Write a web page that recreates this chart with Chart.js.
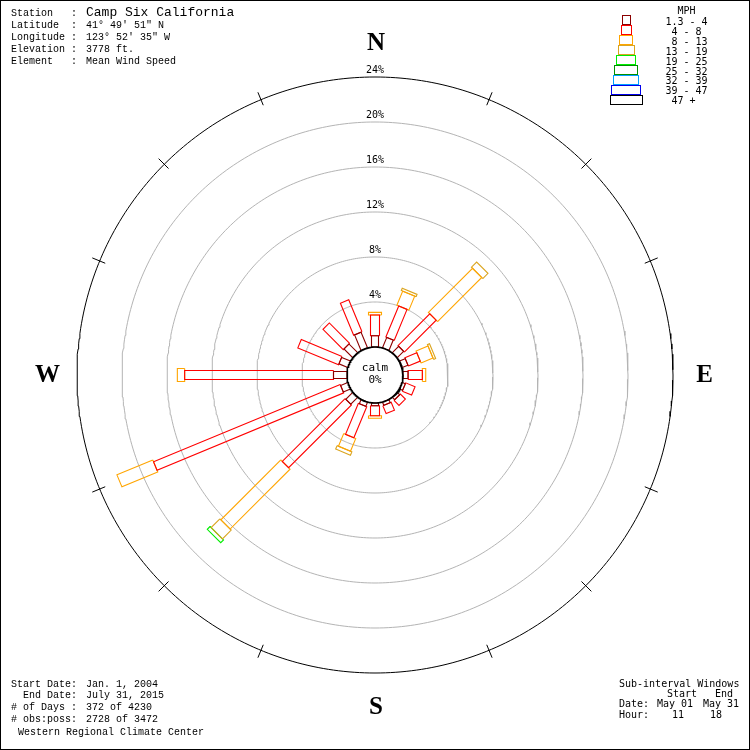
<!DOCTYPE html>
<html><head><meta charset="utf-8">
<script src="https://cdn.jsdelivr.net/npm/chart.js@4/dist/chart.umd.min.js"></script>
<style>html,body{margin:0;padding:0;background:#fff}canvas{display:block}</style>
</head><body>
<canvas id="c" width="750" height="750"></canvas>
<script>
// ---------------- DATA ----------------
const directions = ['N','NNE','NE','ENE','E','ESE','SE','SSE','S','SSW','SW','WSW','W','WNW','NW','NNW'];
const speedClasses = ['1.3 - 4','4 - 8','8 - 13','13 - 19','19 - 25','25 - 32','32 - 39','39 - 47','47 +'];
// percent of observations, per direction, for each speed class (MPH)
const mph1_4   = [1.00,1.00,0.80,0.55,0.45,0.30,0.30,0.30,0.25,0.40,0.87,0.69,1.20,0.85,1.10,1.50];
const mph4_8   = [1.84,2.99,4.00,1.15,1.27,0.90,0.63,0.76,0.88,2.99,7.90,17.96,13.23,3.92,2.55,3.08];
const mph8_13  = [0.24,1.35,5.55,1.15,0.30,0,0,0,0.23,1.21,7.53,3.45,0.65,0,0,0];
const mph13_19 = [0,0.22,0.65,0.20,0,0,0,0,0,0.33,1.10,0,0,0,0,0];
const mph19_25 = [0,0,0,0,0,0,0,0,0,0,0.35,0,0,0,0,0];
const mph25_32 = [0,0,0,0,0,0,0,0,0,0,0,0,0,0,0,0];
const mph32_39 = [0,0,0,0,0,0,0,0,0,0,0,0,0,0,0,0];
const mph39_47 = [0,0,0,0,0,0,0,0,0,0,0,0,0,0,0,0];
const mph47up  = [0,0,0,0,0,0,0,0,0,0,0,0,0,0,0,0];
const calmPercent = 0;
const ringValues = [4,8,12,16,20,24];
const ringLabels = ['4%','8%','12%','16%','20%','24%'];

const stationInfo = [
  ['Station   :','Camp Six California'],
  ['Latitude  :','41\u00b0 49\' 51" N'],
  ['Longitude :','123\u00b0 52\' 35" W'],
  ['Elevation :','3778 ft.'],
  ['Element   :','Mean Wind Speed']
];
const periodInfo = [
  ['Start Date:','Jan. 1, 2004'],
  ['  End Date:','July 31, 2015'],
  ['# of Days :','372 of 4230'],
  ['# obs:poss:','2728 of 3472']
];

// ---------------- STYLE ----------------
const classSeries = [mph1_4,mph4_8,mph8_13,mph13_19,mph19_25,mph25_32,mph32_39,mph39_47,mph47up];
const classColors = ['#8b0000','#ff0000','#ffa500','#daa520','#00ee00','#009000','#00a0ff','#0000ee','#000000'];
const classWidthsPx = [7,9,13,16,19,23,25,29,32];
const PX_PER_PCT = 11.25;
const CALM_PX = 28;
const CALM = CALM_PX / PX_PER_PCT;      // calm circle radius in percent units
const HALF = 375 / PX_PER_PCT;

function rectPoly(angleDeg, r0, r1, halfW){
  const t = angleDeg*Math.PI/180;
  const ux = Math.sin(t), uy = Math.cos(t);
  const px = Math.cos(t), py = -Math.sin(t);
  return [
    {x:r0*ux+halfW*px, y:r0*uy+halfW*py},
    {x:r1*ux+halfW*px, y:r1*uy+halfW*py},
    {x:r1*ux-halfW*px, y:r1*uy-halfW*py},
    {x:r0*ux-halfW*px, y:r0*uy-halfW*py},
    {x:r0*ux+halfW*px, y:r0*uy+halfW*py}
  ];
}
function circlePts(r){
  const pts=[];
  for(let a=0;a<=360;a+=1){const t=a*Math.PI/180;pts.push({x:r*Math.sin(t),y:r*Math.cos(t)});}
  return pts;
}

const datasets = [];
// rings
ringValues.forEach((v,i)=>{
  datasets.push({data:circlePts(CALM+v), borderColor: i===ringValues.length-1?'#000':'#b4b4b4',
    borderWidth:1, order:3});
});
// bars
directions.forEach((d,di)=>{
  const ang = di*22.5;
  let cum = CALM + calmPercent;
  classSeries.forEach((series,ci)=>{
    const v = series[di];
    if(v>0){
      datasets.push({data:rectPoly(ang,cum,cum+v,classWidthsPx[ci]/2/PX_PER_PCT),
        borderColor:classColors[ci], borderWidth:1.1, order:2});
      cum += v;
    }
  });
});
// calm circle
datasets.push({data:circlePts(CALM), borderColor:'#000', borderWidth:1.6, order:1});
datasets.forEach(ds=>{ds.showLine=true;ds.pointRadius=0;ds.fill=false;ds.tension=0;ds.borderJoinStyle='miter';});

const decor = {
  id:'decor',
  beforeDraw(chart){
    const c=chart.ctx; c.save(); c.fillStyle='#fff'; c.fillRect(0,0,chart.width,chart.height); c.restore();
  },
  afterDraw(chart){
    const c=chart.ctx, xs=chart.scales.x, ys=chart.scales.y;
    const P=(x,y)=>[xs.getPixelForValue(x), ys.getPixelForValue(y)];
    c.save();
    // outer ticks
    c.strokeStyle='#000'; c.lineWidth=1;
    for(let k=0;k<16;k++){
      if(k%4===0) continue;
      const t=k*22.5*Math.PI/180;
      const r0=(CALM_PX+24*PX_PER_PCT-6)/PX_PER_PCT, r1=(CALM_PX+24*PX_PER_PCT+8)/PX_PER_PCT;
      const a=P(r0*Math.sin(t),r0*Math.cos(t)), b=P(r1*Math.sin(t),r1*Math.cos(t));
      c.beginPath(); c.moveTo(a[0],a[1]); c.lineTo(b[0],b[1]); c.stroke();
    }
    // ring labels
    c.fillStyle='#000'; c.textAlign='center'; c.textBaseline='middle';
    c.font='10px "DejaVu Sans Mono"';
    ringValues.forEach((v,i)=>{const p=P(0,CALM+v); c.fillText(ringLabels[i], p[0], p[1]-7);});
    // calm label
    c.font='11px "DejaVu Sans Mono"';
    const cp=P(0,0);
    c.fillText('calm', cp[0], cp[1]-7);
    c.fillText(calmPercent+'%', cp[0], cp[1]+5);
    // cardinal letters
    c.font='bold 25px "Liberation Serif"';
    const cr=(CALM_PX+24*PX_PER_PCT+34)/PX_PER_PCT;
    [['N',0],['E',90],['S',180],['W',270]].forEach(([t,a])=>{
      const r = (a===0||a===180)?cr:(cr-0.3);
      const rad=a*Math.PI/180; const p=P(r*Math.sin(rad), r*Math.cos(rad));
      c.fillText(t,p[0]+1,p[1]+1);
    });
    // station info
    c.textAlign='left';
    stationInfo.forEach((row,i)=>{
      const y=13+i*12;
      c.font='10px "Liberation Mono"'; c.fillText(row[0],11,y);
      c.font=(i===0?'13px':'10px')+' "Liberation Mono"'; c.fillText(row[1],86,y);
    });
    periodInfo.forEach((row,i)=>{
      const y=684+i*11.8;
      c.font='10px "Liberation Mono"'; c.fillText(row[0],11,y); c.fillText(row[1],86,y);
    });
    c.fillText('Western Regional Climate Center',18,732);
    // sub-interval windows
    c.font='10px "DejaVu Sans Mono"';
    c.fillText('Sub-interval Windows',619,684);
    c.fillText('Start',667,694); c.fillText('End',715,694);
    c.fillText('Date:',619,704); c.fillText('May 01',657,704); c.fillText('May 31',703,704);
    c.fillText('Hour:',619,715); c.fillText('11',672,715); c.fillText('18',710,715);
    // legend
    c.fillText('  MPH',665.5,11.5);
    const legTxt=['1.3 - 4',' 4 - 8',' 8 - 13','13 - 19','19 - 25','25 - 32','32 - 39','39 - 47',' 47 +'];
    const legW=[8,10,13,16,19,23,25,29,32];
    speedClasses.forEach((s,i)=>{
      c.strokeStyle=classColors[i]; c.lineWidth=1;
      const w=legW[i];
      c.strokeRect(Math.round(625.5-w/2)+0.5, 15.5+i*10, w, 9);
      c.fillStyle='#000';
      c.fillText(legTxt[i],665.5,22.5+i*9.9);
    });
    // frame
    c.strokeStyle='#000'; c.lineWidth=1; c.strokeRect(0.5,0.5,749,749);
    c.restore();
  }
};

new Chart(document.getElementById('c'),{
  type:'scatter',
  data:{datasets},
  options:{
    responsive:false, animation:false, devicePixelRatio:1,
    layout:{padding:0},
    scales:{
      x:{type:'linear',min:-HALF,max:HALF,display:false},
      y:{type:'linear',min:-HALF,max:HALF,display:false}
    },
    plugins:{legend:{display:false},tooltip:{enabled:false}},
    events:[]
  },
  plugins:[decor]
});
</script>
</body></html>
